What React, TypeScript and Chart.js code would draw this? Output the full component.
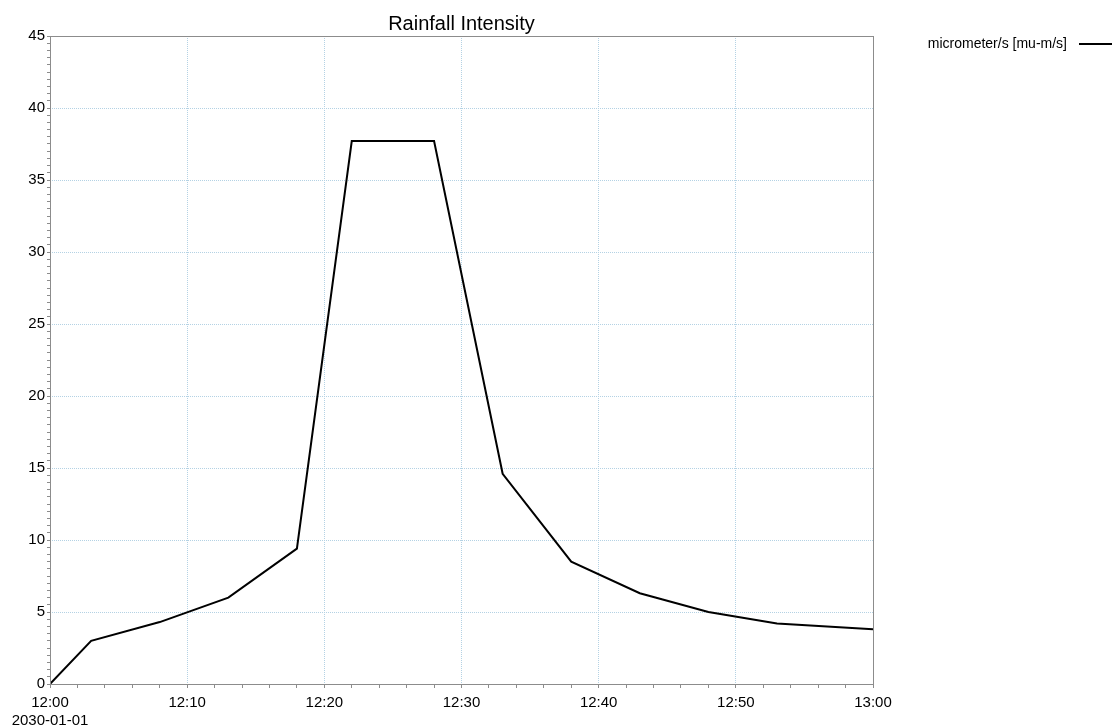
import React, { useEffect, useRef } from "react";
import { Chart, registerables } from "chart.js";

Chart.register(...registerables);

const chartTitle = "Rainfall Intensity";
const seriesLabel = "micrometer/s [mu-m/s]";
// minutes after 12:00 on 2030-01-01
const minutes = [0, 3, 8, 13, 18, 22, 28, 33, 38, 43, 48, 53, 60];
const intensity = [0, 3.0, 4.3, 6.0, 9.4, 37.7, 37.7, 14.6, 8.5, 6.3, 5.0, 4.2, 3.8];
const xTickValues = [0, 10, 20, 30, 40, 50, 60];
const xTickLabels = ["12:00", "12:10", "12:20", "12:30", "12:40", "12:50", "13:00"];
const dateLabel = "2030-01-01";
const yMajorStep = 5;

const FONT = "'Liberation Sans', Arial, sans-serif";
const GRID = "#b4d2e4";
const FRAME = "#8c8c8c";

const framePlugin = {
  id: "frame",
  afterDraw(chart: any) {
    const { ctx, chartArea } = chart;
    ctx.save();
    ctx.strokeStyle = FRAME;
    ctx.lineWidth = 1;
    ctx.strokeRect(
      Math.round(chartArea.left) + 0.5,
      Math.round(chartArea.top) + 0.5,
      Math.round(chartArea.right - chartArea.left),
      Math.round(chartArea.bottom - chartArea.top)
    );
    ctx.restore();
  },
};

const legendPlugin = {
  id: "sideLegend",
  afterDraw(chart: any) {
    const { ctx } = chart;
    const ds = chart.data.datasets[0];
    const y = 44;
    const lineStart = 1079;
    ctx.save();
    ctx.font = `14px ${FONT}`;
    ctx.fillStyle = "#000";
    ctx.textAlign = "right";
    ctx.textBaseline = "middle";
    ctx.fillText(ds.label, lineStart - 12, y);
    ctx.strokeStyle = ds.borderColor;
    ctx.lineWidth = ds.borderWidth;
    ctx.beginPath();
    ctx.moveTo(lineStart, y);
    ctx.lineTo(chart.width, y);
    ctx.stroke();
    ctx.restore();
  },
};

export default function App() {
  const ref = useRef<HTMLCanvasElement | null>(null);

  useEffect(() => {
    if (!ref.current) return;
    const chart = new Chart(ref.current, {
      type: "line",
      data: {
        datasets: [
          {
            label: seriesLabel,
            data: minutes.map((m, i) => ({ x: m, y: intensity[i] })),
            borderColor: "#000000",
            borderWidth: 2,
            pointRadius: 0,
            tension: 0,
            fill: false,
          },
        ],
      },
      options: {
        animation: false,
        responsive: false,
        maintainAspectRatio: false,
        layout: { padding: { left: 0, right: 239, top: 0, bottom: 0 } },
        plugins: {
          legend: { display: false },
          tooltip: { enabled: false },
          title: {
            display: true,
            text: chartTitle,
            fullSize: false,
            color: "#000",
            font: { family: FONT, size: 20, weight: "normal" },
            padding: { top: 12, bottom: 0 },
          },
        },
        scales: {
          x: {
            type: "linear",
            min: 0,
            max: 60,
            afterFit: (s: any) => {
              s.height = 42;
            },
            ticks: {
              stepSize: 2,
              autoSkip: false,
              maxRotation: 0,
              color: "#000",
              padding: 5,
              font: { family: FONT, size: 15, lineHeight: 1.25 },
              callback: (v: any) => {
                const idx = xTickValues.indexOf(v);
                if (idx < 0) return "";
                return idx === 0 ? [xTickLabels[idx], dateLabel] : xTickLabels[idx];
              },
            },
            grid: {
              drawOnChartArea: true,
              drawTicks: true,
              tickLength: 4,
              tickColor: FRAME,
              tickBorderDash: [],
              color: (c: any) =>
                c.tick && xTickValues.indexOf(c.tick.value) >= 0 ? GRID : "rgba(0,0,0,0)",
            },
            border: { display: false, dash: [1, 1] },
          },
          y: {
            type: "linear",
            min: 0,
            max: 45,
            afterFit: (s: any) => {
              s.width = 50;
            },
            ticks: {
              stepSize: 0.5,
              autoSkip: false,
              color: "#000",
              padding: 2,
              font: { family: FONT, size: 15 },
              callback: (v: any) => (Math.abs(v % yMajorStep) < 1e-9 ? String(v) : ""),
            },
            grid: {
              drawTicks: true,
              tickLength: 3,
              tickColor: FRAME,
              tickBorderDash: [],
              color: (c: any) =>
                c.tick && Math.abs(c.tick.value % yMajorStep) < 1e-9 ? GRID : "rgba(0,0,0,0)",
            },
            border: { display: false, dash: [1, 1] },
          },
        },
      },
      plugins: [framePlugin, legendPlugin],
    });
    return () => chart.destroy();
  }, []);

  return (
    <div style={{ position: "fixed", left: 0, top: 0, width: 1112, height: 726, background: "#fff" }}>
      <canvas ref={ref} width={1112} height={726} style={{ width: 1112, height: 726 }} />
    </div>
  );
}
